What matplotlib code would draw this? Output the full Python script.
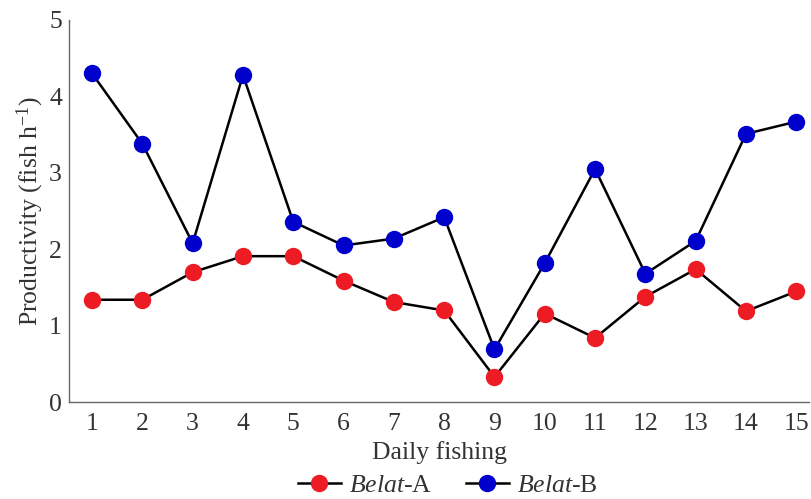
import matplotlib.pyplot as plt

plt.rcParams["font.family"] = "Liberation Serif"
plt.rcParams["mathtext.fontset"] = "custom"
plt.rcParams["mathtext.rm"] = "Liberation Serif"
plt.rcParams["mathtext.it"] = "Liberation Serif:italic"

days = list(range(1, 16))
belat_a = [1.34, 1.34, 1.70, 1.91, 1.91, 1.59, 1.31, 1.20, 0.33, 1.16, 0.84, 1.38, 1.74, 1.19, 1.45]
belat_b = [4.30, 3.38, 2.08, 4.28, 2.36, 2.05, 2.14, 2.42, 0.69, 1.82, 3.05, 1.68, 2.11, 3.51, 3.67]

fig = plt.figure(figsize=(8.11, 4.99), dpi=100)
ax = fig.add_axes([0.085, 0.194, 0.913, 0.766])

ax.plot(days, belat_a, color="black", linewidth=1.8, marker="o", markersize=11.5,
        markerfacecolor="#ED1C24", markeredgecolor="#ED1C24", label="$\\it{Belat}$-A")
ax.plot(days, belat_b, color="black", linewidth=1.8, marker="o", markersize=11.5,
        markerfacecolor="#0000CD", markeredgecolor="#0000CD", label="$\\it{Belat}$-B")

ax.set_xlim(0.54, 15.26)
ax.set_ylim(0, 5)
ax.set_xticks(days)
ax.set_yticks(range(0, 6))
ax.tick_params(length=0, labelsize=18.5, colors="#333333")
ax.tick_params(axis="x", pad=8)
ax.tick_params(axis="y", pad=5)

for side in ["top", "right"]:
    ax.spines[side].set_visible(False)
for side in ["left", "bottom"]:
    ax.spines[side].set_color("#666666")
    ax.spines[side].set_linewidth(1.0)

ax.set_xlabel("Daily fishing", fontsize=18.5, color="#333333", labelpad=4)
ax.set_ylabel("Productivity (fish h$^{\\mathregular{-1}}$)", fontsize=18.5, color="#333333", labelpad=2)

fig.legend(*ax.get_legend_handles_labels(), loc="center", bbox_to_anchor=(0.552, 0.028),
           ncol=2, frameon=False, fontsize=18.5, handlelength=1.7, columnspacing=1.3,
           handletextpad=0.3, labelcolor="#333333", borderpad=0)

fig.savefig("out.png", dpi=100)
